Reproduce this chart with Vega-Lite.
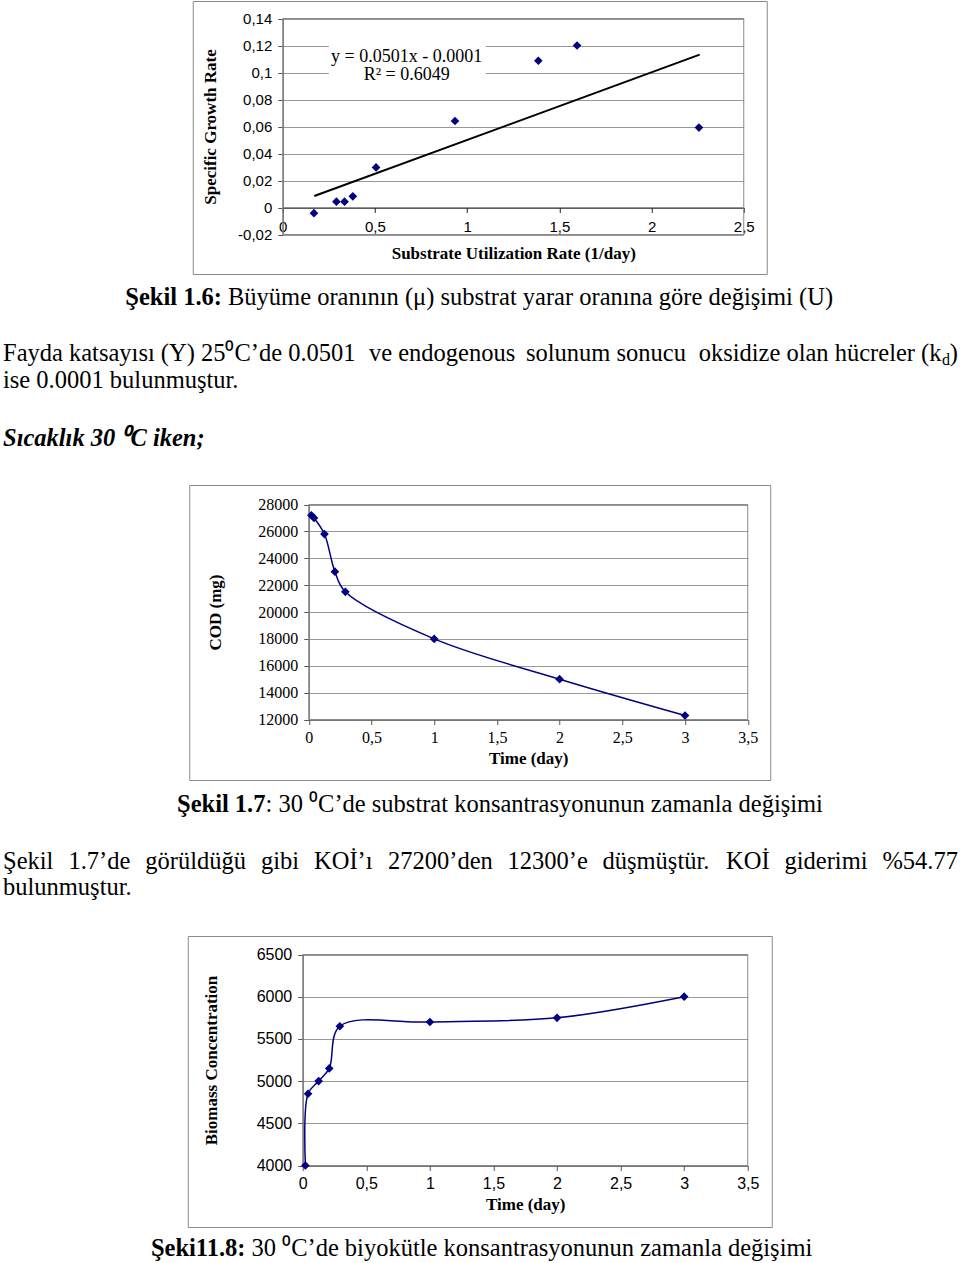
{
  "$schema": "https://vega.github.io/schema/vega-lite/v6.json",
  "background": "white",
  "padding": {"left": 0, "right": 0, "top": 0, "bottom": 0},
  "center": true,
  "spacing": 0,
  "bounds": "full",
  "config": {
    "locale": {"number": {"decimal": ",", "thousands": ".", "grouping": [3], "currency": ["", ""], "minus": "-"}},
    "view": {"stroke": "#8a8a8a", "strokeWidth": 1},
    "axis": {"labelColor": "black", "titleColor": "black", "grid": false, "domainColor": "#555", "tickColor": "#555", "tickSize": 5, "titleFont": "Liberation Serif", "titleFontWeight": "bold", "titleFontSize": 17, "labelFlush": false, "labelOverlap": false, "gridColor": "#999", "gridOpacity": 1},
    "text": {"font": "Liberation Serif", "color": "black", "fontSize": 24.5, "baseline": "middle", "align": "left"}
  },
  "vconcat": [
    {
      "width": 574,
      "height": 273,
      "layer": [
        {
          "data": {"values": [{}]},
          "mark": {"type": "rect", "filled": false, "stroke": "#8a8a8a", "strokeWidth": 1},
          "encoding": {
            "x": {"datum": 0, "type": "quantitative"},
            "x2": {"datum": 2.5},
            "y": {"datum": -0.02, "type": "quantitative"},
            "y2": {"datum": 0.14}
          }
        },
        {
          "data": {"values": [{}]},
          "mark": {"type": "rect", "fill": "white"},
          "encoding": {
            "x": {"datum": 0.25, "type": "quantitative"},
            "x2": {"datum": 1.1},
            "y": {"datum": 0.0955, "type": "quantitative"},
            "y2": {"datum": 0.1255}
          }
        },
        {
          "data": {"values": [{"u": 0.171, "mu": 0.0085}, {"u": 2.261, "mu": 0.1132}]},
          "mark": {"type": "line", "color": "black", "strokeWidth": 2},
          "encoding": {
            "x": {"field": "u", "type": "quantitative"},
            "y": {"field": "mu", "type": "quantitative"}
          }
        },
        {
          "data": {"values": [
            {"u": 0.169, "mu": -0.0042},
            {"u": 0.291, "mu": 0.0043},
            {"u": 0.335, "mu": 0.0043},
            {"u": 0.38, "mu": 0.0083},
            {"u": 0.506, "mu": 0.0297},
            {"u": 0.934, "mu": 0.0641},
            {"u": 1.386, "mu": 0.1087},
            {"u": 1.596, "mu": 0.12},
            {"u": 2.257, "mu": 0.0592}
          ]},
          "mark": {"type": "point", "shape": "diamond", "filled": true, "color": "#000080", "size": 75, "opacity": 1},
          "encoding": {
            "x": {
              "field": "u", "type": "quantitative",
              "scale": {"domain": [0, 2.5], "range": [90, 551], "nice": false, "zero": false},
              "axis": {"orient": "bottom", "offset": -66.5, "values": [0, 0.5, 1, 1.5, 2, 2.5], "tickCount": 50, "format": "~g", "labelOverlap": false, "labelFlush": false, "labelFont": "Liberation Sans", "labelFontSize": 15, "labelPadding": 7, "domainColor": "#222", "tickColor": "#222", "title": "Substrate Utilization Rate (1/day)", "titlePadding": 11}
            },
            "y": {
              "field": "mu", "type": "quantitative",
              "scale": {"domain": [-0.02, 0.14], "range": [233.5, 17.5], "nice": false, "zero": false},
              "axis": {"orient": "left", "offset": -90, "values": [-0.02, 0, 0.02, 0.04, 0.06, 0.08, 0.1, 0.12, 0.14], "tickCount": 50, "format": ".2~f", "labelOverlap": false, "labelFlush": false, "grid": true, "labelFont": "Liberation Sans", "labelFontSize": 15, "labelPadding": 6, "title": "Specific Growth Rate", "titlePadding": 18}
            }
          }
        },
        {
          "data": {"values": [{"eq": "y = 0.0501x - 0.0001"}]},
          "mark": {"type": "text", "fontSize": 18, "align": "center"},
          "encoding": {
            "x": {"datum": 0.672, "type": "quantitative"},
            "y": {"datum": 0.1114, "type": "quantitative"},
            "text": {"field": "eq"}
          }
        },
        {
          "data": {"values": [{"eq": "R² = 0.6049"}]},
          "mark": {"type": "text", "fontSize": 18, "align": "center"},
          "encoding": {
            "x": {"datum": 0.672, "type": "quantitative"},
            "y": {"datum": 0.0983, "type": "quantitative"},
            "text": {"field": "eq"}
          }
        }
      ]
    },
    {
      "width": 960,
      "height": 209,
      "view": {"stroke": null},
      "layer": [
        {
          "data": {"values": [{"t": "Şekil 1.6:"}]},
          "mark": {"type": "text", "align": "right", "fontWeight": "bold"},
          "encoding": {
            "text": {"field": "t"},
            "x": {"datum": 222, "type": "quantitative", "scale": {"domain": [0, 960], "nice": false, "zero": false}, "axis": null},
            "y": {"datum": 23, "type": "quantitative", "scale": {"domain": [0, 209], "reverse": true, "nice": false, "zero": false}, "axis": null}
          }
        },
        {
          "data": {"values": [{"t": "Büyüme oranının (μ) substrat yarar oranına göre değişimi (U)"}]},
          "mark": {"type": "text"},
          "encoding": {"text": {"field": "t"}, "x": {"datum": 228, "type": "quantitative"}, "y": {"datum": 23, "type": "quantitative"}}
        },
        {
          "data": {"values": [{"t": "Fayda katsayısı (Y) 25⁰C’de 0.0501"}]},
          "mark": {"type": "text"},
          "encoding": {"text": {"field": "t"}, "x": {"datum": 3, "type": "quantitative"}, "y": {"datum": 79, "type": "quantitative"}}
        },
        {
          "data": {"values": [{"t": "ve endogenous"}]},
          "mark": {"type": "text"},
          "encoding": {"text": {"field": "t"}, "x": {"datum": 369, "type": "quantitative"}, "y": {"datum": 79, "type": "quantitative"}}
        },
        {
          "data": {"values": [{"t": "solunum sonucu"}]},
          "mark": {"type": "text"},
          "encoding": {"text": {"field": "t"}, "x": {"datum": 526, "type": "quantitative"}, "y": {"datum": 79, "type": "quantitative"}}
        },
        {
          "data": {"values": [{"t": "oksidize olan hücreler (k"}]},
          "mark": {"type": "text", "align": "right"},
          "encoding": {"text": {"field": "t"}, "x": {"datum": 941.5, "type": "quantitative"}, "y": {"datum": 79, "type": "quantitative"}}
        },
        {
          "data": {"values": [{"t": "d"}]},
          "mark": {"type": "text", "align": "right", "fontSize": 16},
          "encoding": {"text": {"field": "t"}, "x": {"datum": 950, "type": "quantitative"}, "y": {"datum": 85, "type": "quantitative"}}
        },
        {
          "data": {"values": [{"t": ")"}]},
          "mark": {"type": "text", "align": "right"},
          "encoding": {"text": {"field": "t"}, "x": {"datum": 958, "type": "quantitative"}, "y": {"datum": 79, "type": "quantitative"}}
        },
        {
          "data": {"values": [{"t": "ise 0.0001 bulunmuştur."}]},
          "mark": {"type": "text"},
          "encoding": {"text": {"field": "t"}, "x": {"datum": 3, "type": "quantitative"}, "y": {"datum": 106, "type": "quantitative"}}
        },
        {
          "data": {"values": [{"t": "Sıcaklık 30 ⁰C iken;"}]},
          "mark": {"type": "text", "fontWeight": "bold", "fontStyle": "italic"},
          "encoding": {"text": {"field": "t"}, "x": {"datum": 3, "type": "quantitative"}, "y": {"datum": 164, "type": "quantitative"}}
        }
      ]
    },
    {
      "width": 581,
      "height": 295,
      "data": {"values": [
        {"t": 0.0208, "cod": 27200},
        {"t": 0.0417, "cod": 27000},
        {"t": 0.125, "cod": 25800},
        {"t": 0.2083, "cod": 23000},
        {"t": 0.2917, "cod": 21500},
        {"t": 1, "cod": 18000},
        {"t": 2, "cod": 15000},
        {"t": 3, "cod": 12300}
      ]},
      "layer": [
        {
          "data": {"values": [{}]},
          "mark": {"type": "rect", "filled": false, "stroke": "#8a8a8a", "strokeWidth": 1},
          "encoding": {
            "x": {"datum": 0, "type": "quantitative"},
            "x2": {"datum": 3.5},
            "y": {"datum": 12000, "type": "quantitative"},
            "y2": {"datum": 28000}
          }
        },
        {
          "mark": {"type": "line", "interpolate": "catmull-rom", "color": "#000080", "strokeWidth": 1.5},
          "encoding": {
            "x": {
              "field": "t", "type": "quantitative",
              "scale": {"domain": [0, 3.5], "range": [119.5, 558.5], "nice": false, "zero": false},
              "axis": {"orient": "bottom", "offset": -60.5, "values": [0, 0.5, 1, 1.5, 2, 2.5, 3, 3.5], "tickCount": 50, "format": "~g", "labelOverlap": false, "labelFlush": false, "labelFont": "Liberation Serif", "labelFontSize": 16, "labelPadding": 5, "title": "Time (day)", "titlePadding": 5}
            },
            "y": {
              "field": "cod", "type": "quantitative",
              "scale": {"domain": [12000, 28000], "range": [234.5, 19.5], "nice": false, "zero": false},
              "axis": {"orient": "left", "offset": -119.5, "values": [12000, 14000, 16000, 18000, 20000, 22000, 24000, 26000, 28000], "tickCount": 50, "format": "d", "labelOverlap": false, "labelFlush": false, "grid": true, "labelFont": "Liberation Serif", "labelFontSize": 16, "labelPadding": 6, "title": "COD (mg)", "titlePadding": 33}
            }
          }
        },
        {
          "mark": {"type": "point", "shape": "diamond", "filled": true, "color": "#000080", "size": 75, "opacity": 1},
          "encoding": {
            "x": {"field": "t", "type": "quantitative"},
            "y": {"field": "cod", "type": "quantitative"}
          }
        }
      ]
    },
    {
      "width": 960,
      "height": 154,
      "view": {"stroke": null},
      "layer": [
        {
          "data": {"values": [{"t": "Şekil 1.7"}]},
          "mark": {"type": "text", "fontWeight": "bold"},
          "encoding": {
            "text": {"field": "t"},
            "x": {"datum": 177, "type": "quantitative", "scale": {"domain": [0, 960], "nice": false, "zero": false}, "axis": null},
            "y": {"datum": 24, "type": "quantitative", "scale": {"domain": [0, 154], "reverse": true, "nice": false, "zero": false}, "axis": null}
          }
        },
        {
          "data": {"values": [{"t": ": 30 ⁰C’de substrat konsantrasyonunun zamanla değişimi"}]},
          "mark": {"type": "text"},
          "encoding": {"text": {"field": "t"}, "x": {"datum": 265.5, "type": "quantitative"}, "y": {"datum": 24, "type": "quantitative"}}
        },
        {
          "data": {"values": [{"t": "Şekil"}]},
          "mark": {"type": "text"},
          "encoding": {"text": {"field": "t"}, "x": {"datum": 3, "type": "quantitative"}, "y": {"datum": 81, "type": "quantitative"}}
        },
        {
          "data": {"values": [{"t": "1.7’de"}]},
          "mark": {"type": "text"},
          "encoding": {"text": {"field": "t"}, "x": {"datum": 68.4, "type": "quantitative"}, "y": {"datum": 81, "type": "quantitative"}}
        },
        {
          "data": {"values": [{"t": "görüldüğü"}]},
          "mark": {"type": "text"},
          "encoding": {"text": {"field": "t"}, "x": {"datum": 145.3, "type": "quantitative"}, "y": {"datum": 81, "type": "quantitative"}}
        },
        {
          "data": {"values": [{"t": "gibi"}]},
          "mark": {"type": "text"},
          "encoding": {"text": {"field": "t"}, "x": {"datum": 261, "type": "quantitative"}, "y": {"datum": 81, "type": "quantitative"}}
        },
        {
          "data": {"values": [{"t": "KOİ’ı"}]},
          "mark": {"type": "text"},
          "encoding": {"text": {"field": "t"}, "x": {"datum": 314, "type": "quantitative"}, "y": {"datum": 81, "type": "quantitative"}}
        },
        {
          "data": {"values": [{"t": "27200’den"}]},
          "mark": {"type": "text"},
          "encoding": {"text": {"field": "t"}, "x": {"datum": 388, "type": "quantitative"}, "y": {"datum": 81, "type": "quantitative"}}
        },
        {
          "data": {"values": [{"t": "12300’e"}]},
          "mark": {"type": "text"},
          "encoding": {"text": {"field": "t"}, "x": {"datum": 507.5, "type": "quantitative"}, "y": {"datum": 81, "type": "quantitative"}}
        },
        {
          "data": {"values": [{"t": "düşmüştür."}]},
          "mark": {"type": "text"},
          "encoding": {"text": {"field": "t"}, "x": {"datum": 602.5, "type": "quantitative"}, "y": {"datum": 81, "type": "quantitative"}}
        },
        {
          "data": {"values": [{"t": "KOİ"}]},
          "mark": {"type": "text"},
          "encoding": {"text": {"field": "t"}, "x": {"datum": 726, "type": "quantitative"}, "y": {"datum": 81, "type": "quantitative"}}
        },
        {
          "data": {"values": [{"t": "giderimi"}]},
          "mark": {"type": "text"},
          "encoding": {"text": {"field": "t"}, "x": {"datum": 784.5, "type": "quantitative"}, "y": {"datum": 81, "type": "quantitative"}}
        },
        {
          "data": {"values": [{"t": "%54.77"}]},
          "mark": {"type": "text", "align": "right"},
          "encoding": {"text": {"field": "t"}, "x": {"datum": 958, "type": "quantitative"}, "y": {"datum": 81, "type": "quantitative"}}
        },
        {
          "data": {"values": [{"t": "bulunmuştur."}]},
          "mark": {"type": "text"},
          "encoding": {"text": {"field": "t"}, "x": {"datum": 3, "type": "quantitative"}, "y": {"datum": 107, "type": "quantitative"}}
        }
      ]
    },
    {
      "width": 584,
      "height": 291,
      "data": {"values": [
        {"t": 0.0208, "bio": 4000},
        {"t": 0.0417, "bio": 4850},
        {"t": 0.125, "bio": 5000},
        {"t": 0.2083, "bio": 5150},
        {"t": 0.2917, "bio": 5650},
        {"t": 1, "bio": 5700},
        {"t": 2, "bio": 5750},
        {"t": 3, "bio": 6000}
      ]},
      "layer": [
        {
          "data": {"values": [{}]},
          "mark": {"type": "rect", "filled": false, "stroke": "#8a8a8a", "strokeWidth": 1},
          "encoding": {
            "x": {"datum": 0, "type": "quantitative"},
            "x2": {"datum": 3.5},
            "y": {"datum": 4000, "type": "quantitative"},
            "y2": {"datum": 6500}
          }
        },
        {
          "mark": {"type": "line", "interpolate": "catmull-rom", "color": "#000080", "strokeWidth": 1.5},
          "encoding": {
            "x": {
              "field": "t", "type": "quantitative",
              "scale": {"domain": [0, 3.5], "range": [115, 560], "nice": false, "zero": false},
              "axis": {"orient": "bottom", "offset": -61.5, "values": [0, 0.5, 1, 1.5, 2, 2.5, 3, 3.5], "tickCount": 50, "format": "~g", "labelOverlap": false, "labelFlush": false, "labelFont": "Liberation Sans", "labelFontSize": 16, "labelPadding": 5, "title": "Time (day)", "titlePadding": 5}
            },
            "y": {
              "field": "bio", "type": "quantitative",
              "scale": {"domain": [4000, 6500], "range": [229.5, 18.5], "nice": false, "zero": false},
              "axis": {"orient": "left", "offset": -115, "values": [4000, 4500, 5000, 5500, 6000, 6500], "tickCount": 50, "format": "d", "labelOverlap": false, "labelFlush": false, "grid": true, "labelFont": "Liberation Sans", "labelFontSize": 16, "labelPadding": 6, "title": "Biomass Concentration", "titlePadding": 36}
            }
          }
        },
        {
          "mark": {"type": "point", "shape": "diamond", "filled": true, "color": "#000080", "size": 75, "opacity": 1},
          "encoding": {
            "x": {"field": "t", "type": "quantitative"},
            "y": {"field": "bio", "type": "quantitative"}
          }
        }
      ]
    },
    {
      "width": 960,
      "height": 36,
      "view": {"stroke": null},
      "layer": [
        {
          "data": {"values": [{"t": "Şeki11.8:"}]},
          "mark": {"type": "text", "align": "right", "fontWeight": "bold"},
          "encoding": {
            "text": {"field": "t"},
            "x": {"datum": 245.5, "type": "quantitative", "scale": {"domain": [0, 960], "nice": false, "zero": false}, "axis": null},
            "y": {"datum": 21, "type": "quantitative", "scale": {"domain": [0, 36], "reverse": true, "nice": false, "zero": false}, "axis": null}
          }
        },
        {
          "data": {"values": [{"t": "30 ⁰C’de biyokütle konsantrasyonunun zamanla değişimi"}]},
          "mark": {"type": "text"},
          "encoding": {"text": {"field": "t"}, "x": {"datum": 251.5, "type": "quantitative"}, "y": {"datum": 21, "type": "quantitative"}}
        }
      ]
    }
  ]
}
